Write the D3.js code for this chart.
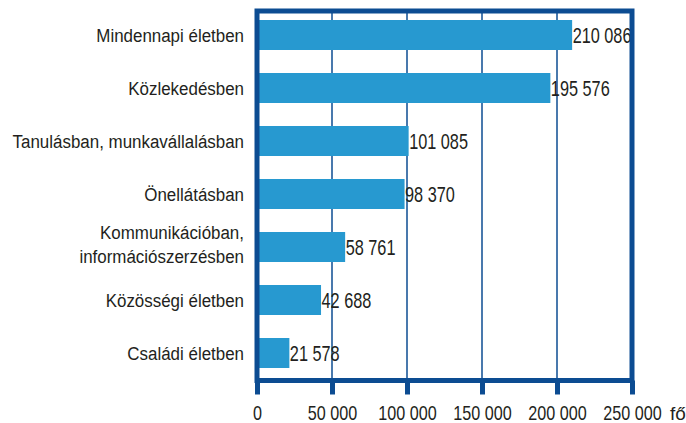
<!DOCTYPE html>
<meta charset="utf-8">
<script src="https://d3js.org/d3.v7.min.js"></script>
<style>
  body { margin: 0; background: #fff; }
</style>
<div class="canvas"></div>
<script>

    // data
    const categories = ["Mindennapi életben", "Közlekedésben", "Tanulásban, munkavállalásban",
                        "Önellátásban", "Kommunikációban,\ninformációszerzésben",
                        "Közösségi életben", "Családi életben"]
    const values = [210086, 195576, 101085, 98370, 58761, 42688, 21578]
    const tickValues = [0, 50000, 100000, 150000, 200000, 250000]
    const unitLabel = "fő"

    const width = 686
    const height = 423
    const frameBlue = "#0c4c92"
    const barBlue = "#2799d0"
    const textColor = "#231f20"
    const font = "'Liberation Sans', Arial, sans-serif"

    const plot = {left: 257, right: 632, top: 11, bottom: 380.5}

    // squeeze a text horizontally (the original uses a condensed face)
    function condense(sel, f) {
        sel.each(function() {
            const w = this.getComputedTextLength()
            d3.select(this)
                .attr("textLength", w * f)
                .attr("lengthAdjust", "spacingAndGlyphs")
        })
    }

    const svg = d3.select(".canvas")
                .append("svg")
                .attr("width", width)
                .attr("height", height)

    const x = d3.scaleLinear()
                .domain([0, 250000])
                .range([plot.left, plot.right])

    const y = d3.scaleBand()
                .domain(categories)
                .range([8.5, 379.5])
                .paddingInner(0.434)
                .paddingOuter(0.217)

    const fmt = d3.formatLocale({decimal: ",", thousands: " ", grouping: [3], currency: ["", ""]}).format(",d")

    // vertical gridlines
    svg.append("g")
        .selectAll("line")
        .data(tickValues.slice(1, -1))
        .join("line")
        .attr("x1", d => x(d))
        .attr("x2", d => x(d))
        .attr("y1", plot.top)
        .attr("y2", plot.bottom)
        .attr("stroke", frameBlue)
        .attr("stroke-width", 1.5)

    // bars
    svg.append("g")
        .selectAll("rect")
        .data(values)
        .join("rect")
        .attr("x", x(0))
        .attr("y", (d, i) => y(categories[i]))
        .attr("width", d => x(d) - x(0))
        .attr("height", y.bandwidth())
        .attr("fill", barBlue)

    // value labels
    svg.append("g")
        .selectAll("text")
        .data(values)
        .join("text")
        .attr("x", d => x(d) + 0.5)
        .attr("y", (d, i) => y(categories[i]) + y.bandwidth() / 2 + 8)
        .attr("font-family", font)
        .attr("font-size", 22)
        .attr("fill", textColor)
        .text(d => fmt(d))
        .call(condense, 0.74)

    // category labels
    const catG = svg.append("g")
    categories.forEach(c => {
        const lines = c.split("\n")
        const cy = y(c) + y.bandwidth() / 2
        const t = catG.append("text")
            .attr("text-anchor", "end")
            .attr("font-family", font)
            .attr("font-size", 18)
            .attr("fill", textColor)
        lines.forEach((ln, j) => {
            t.append("tspan")
                .attr("x", plot.left - 13)
                .attr("y", cy + 6.5 + (j - (lines.length - 1) / 2) * 24 - (lines.length > 1 ? 3 : 0))
                .text(ln)
                .call(condense, 0.94)
        })
    })

    // frame
    svg.append("rect")
        .attr("x", plot.left)
        .attr("y", plot.top)
        .attr("width", plot.right - plot.left)
        .attr("height", plot.bottom - plot.top)
        .attr("fill", "none")
        .attr("stroke", frameBlue)
        .attr("stroke-width", 5)

    // bottom axis
    const xAxis = d3.axisBottom(x)
                    .tickValues(tickValues)
                    .tickSize(14)
                    .tickPadding(11)
                    .tickFormat(d => fmt(d))

    const gXAxis = svg.append("g")
                    .attr("transform", `translate(0,${plot.bottom})`)
                    .call(xAxis)

    gXAxis.select(".domain").remove()
    gXAxis.selectAll(".tick line")
        .attr("stroke", frameBlue)
        .attr("stroke-width", 5)
    gXAxis.selectAll("text")
        .attr("fill", textColor)
        .style("font-family", font)
        .style("font-size", "21px")
        .call(condense, 0.77)

    // unit after the last tick label
    svg.append("text")
        .attr("x", x(250000) + 38)
        .attr("y", plot.bottom + 39.5)
        .attr("font-family", font)
        .attr("font-size", 19)
        .attr("fill", textColor)
        .text(unitLabel)

</script>
